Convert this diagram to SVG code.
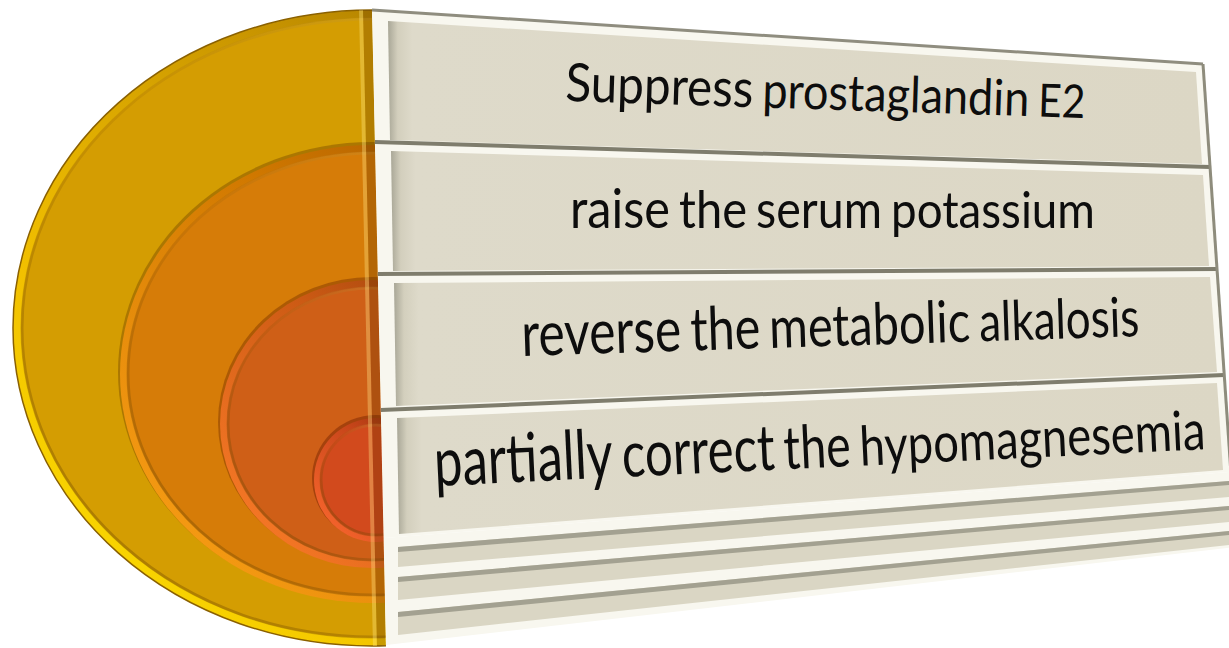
<svg xmlns="http://www.w3.org/2000/svg" width="1229" height="648" viewBox="0 0 1229 648">
<defs>
  <clipPath id="edge"><polygon points="0,0 371.8,0 386,648 0,648"/></clipPath>
  <clipPath id="outer"><ellipse cx="372" cy="328" rx="359" ry="318"/></clipPath>
  <linearGradient id="rim1" x1="1" y1="0" x2="0" y2="1">
    <stop offset="0" stop-color="#8F6500"/><stop offset="0.35" stop-color="#C99500"/><stop offset="0.7" stop-color="#F2C000"/><stop offset="1" stop-color="#FFE600"/>
  </linearGradient>
  <linearGradient id="rim2" x1="1" y1="0" x2="0" y2="1">
    <stop offset="0" stop-color="#9A4E00"/><stop offset="0.4" stop-color="#D07800"/><stop offset="1" stop-color="#FFA318"/>
  </linearGradient>
  <linearGradient id="rim3" x1="1" y1="0" x2="0" y2="1">
    <stop offset="0" stop-color="#8E3A0A"/><stop offset="0.4" stop-color="#CC5A14"/><stop offset="1" stop-color="#FF7E2A"/>
  </linearGradient>
  <linearGradient id="rim4" x1="1" y1="0" x2="0" y2="1">
    <stop offset="0" stop-color="#8A2A0A"/><stop offset="0.4" stop-color="#C8461A"/><stop offset="1" stop-color="#FF6A30"/>
  </linearGradient>
  <linearGradient id="inshade" x1="1" y1="0" x2="0" y2="1">
    <stop offset="0" stop-color="#FFE080" stop-opacity="0.35"/><stop offset="0.5" stop-color="#805000" stop-opacity="0.15"/><stop offset="1" stop-color="#604000" stop-opacity="0.45"/>
  </linearGradient>
  <linearGradient id="face" x1="0" y1="0" x2="1" y2="0">
    <stop offset="0" stop-color="#A9A797"/><stop offset="0.012" stop-color="#D3CFBD"/><stop offset="0.03" stop-color="#DEDACA"/><stop offset="1" stop-color="#DCD7C5"/>
  </linearGradient>
  <style>
    .frame{fill:#F8F7EF}
    .face{fill:url(#face)}
    .sep{fill:none;stroke:#7F7D6D;stroke-width:4}
    .redge{fill:none;stroke:#8E8C7C;stroke-width:3}
    .stripe{fill:#DAD6C4}
    .sshade{fill:#A3A191}
    .lbl{font-family:Lato,"Liberation Sans",sans-serif;fill:#0D0D0D}
    .inner{fill:none;stroke:url(#inshade);stroke-width:3}
  </style>
</defs>

<g id="rings" clip-path="url(#edge)">
  <g id="ring1">
    <ellipse cx="372" cy="328" rx="359" ry="318" fill="url(#rim1)" stroke="#8A6000" stroke-width="1.5"/>
    <ellipse cx="372" cy="328" rx="351" ry="310" fill="#D49D02"/>
    <ellipse cx="372" cy="328" rx="350" ry="309" class="inner"/>
  </g>
  <g id="ring2">
    <ellipse cx="372" cy="372" rx="254" ry="230" fill="#7A4A00" opacity="0.45"/>
    <ellipse cx="372" cy="374" rx="252" ry="229" fill="url(#rim2)"/>
    <ellipse cx="372" cy="374" rx="245" ry="222" fill="#D67C08"/>
    <ellipse cx="372" cy="374" rx="244" ry="221" class="inner"/>
  </g>
  <g id="ring3">
    <ellipse cx="372" cy="422" rx="154" ry="145" fill="#7A3000" opacity="0.45"/>
    <ellipse cx="372" cy="424" rx="152" ry="144" fill="url(#rim3)"/>
    <ellipse cx="372" cy="424" rx="145" ry="137" fill="#CF5F17"/>
    <ellipse cx="372" cy="424" rx="144" ry="136" class="inner"/>
  </g>
  <g id="ring4">
    <ellipse cx="376" cy="478" rx="64" ry="63" fill="#702000" opacity="0.45"/>
    <ellipse cx="376" cy="480" rx="62" ry="62" fill="url(#rim4)"/>
    <ellipse cx="376" cy="480" rx="56" ry="56" fill="#D24A1D"/>
    <ellipse cx="376" cy="480" rx="55" ry="55" class="inner"/>
  </g>
  <g id="side" clip-path="url(#outer)">
    <polygon points="358.8,0 362.8,0 377,648 373,648" fill="#FFEB8C" fill-opacity="0.35"/>
    <polygon points="362.8,0 371.8,0 386,648 377,648" fill="#5A2D00" fill-opacity="0.28"/>
  </g>
</g>

<g id="box1">
  <polygon class="frame" points="372,10 1203,64 1210,167 374.9,142"/>
  <polygon class="face" points="388,21 1196,72 1202,164 390,140"/>
  <polyline class="sep" points="372,10 1203,64" style="stroke:#8F8D7F;stroke-width:3"/>
  <text class="lbl" transform="translate(565,101) rotate(1.87)"><tspan x="0" font-size="53" textLength="188" lengthAdjust="spacingAndGlyphs">Suppress</tspan> <tspan x="197" font-size="50" textLength="267" lengthAdjust="spacingAndGlyphs">prostaglandin</tspan> <tspan x="473" font-size="46" textLength="47" lengthAdjust="spacingAndGlyphs">E2</tspan></text>
</g>

<g id="box2">
  <polygon class="frame" points="374.9,142 1210,167 1216.8,269 377.8,274"/>
  <polygon class="face" points="391,151 1203,175 1209,266 393,271"/>
  <polyline class="sep" points="374.9,142 1210,167"/>
  <text class="lbl" y="228"><tspan x="570" font-size="54" textLength="100" lengthAdjust="spacingAndGlyphs">raise</tspan> <tspan x="679" font-size="53" textLength="68" lengthAdjust="spacingAndGlyphs">the</tspan> <tspan x="756" font-size="52" textLength="126" lengthAdjust="spacingAndGlyphs">serum</tspan> <tspan x="891" font-size="51" textLength="204" lengthAdjust="spacingAndGlyphs">potassium</tspan></text>
</g>

<g id="box3">
  <polygon class="frame" points="377.8,274 1216.8,269 1224,375 380.8,410"/>
  <polygon class="face" points="394,283 1210,277 1217,372 396,406"/>
  <polyline class="sep" points="377.8,274 1216.8,269"/>
  <text class="lbl" transform="translate(522,356) rotate(-1.85)"><tspan x="0" font-size="62" textLength="160" lengthAdjust="spacingAndGlyphs">reverse</tspan> <tspan x="169" font-size="60" textLength="70" lengthAdjust="spacingAndGlyphs">the</tspan> <tspan x="248" font-size="58" textLength="201" lengthAdjust="spacingAndGlyphs">metabolic</tspan> <tspan x="458" font-size="55" textLength="160" lengthAdjust="spacingAndGlyphs">alkalosis</tspan></text>
</g>

<g id="box4">
  <polygon class="frame" points="380.8,410 1224,375 1230.5,472 383.6,538"/>
  <polygon class="face" points="397,418 1217,383 1223,470 399,534"/>
  <polyline class="sep" points="380.8,410 1224,375"/>
  <text class="lbl" transform="translate(435,486) rotate(-2.73)"><tspan x="0" font-size="68" textLength="179" lengthAdjust="spacingAndGlyphs">partially</tspan> <tspan x="188" font-size="64" textLength="153" lengthAdjust="spacingAndGlyphs">correct</tspan> <tspan x="350" font-size="60" textLength="67" lengthAdjust="spacingAndGlyphs">the</tspan> <tspan x="426" font-size="55" textLength="346" lengthAdjust="spacingAndGlyphs">hypomagnesemia</tspan></text>
</g>

<g id="stripes">
  <polygon class="frame" points="383.6,538 1230.5,472 1235.6,547 386,645"/>
  <polygon class="stripe" points="398,547 1229,481 1229,497 398,567"/>
  <polygon class="sshade" points="398,547 1229,481 1229,485 398,552"/>
  <polygon class="stripe" points="398,577 1229,506 1229,522 398,600"/>
  <polygon class="sshade" points="398,577 1229,506 1229,510 398,582"/>
  <polygon class="stripe" points="398,612 1229,531 1229,545 398,635"/>
  <polygon class="sshade" points="398,612 1229,531 1229,535 398,617"/>
</g>

<polyline class="redge" points="1203,64 1236,547"/>
</svg>
